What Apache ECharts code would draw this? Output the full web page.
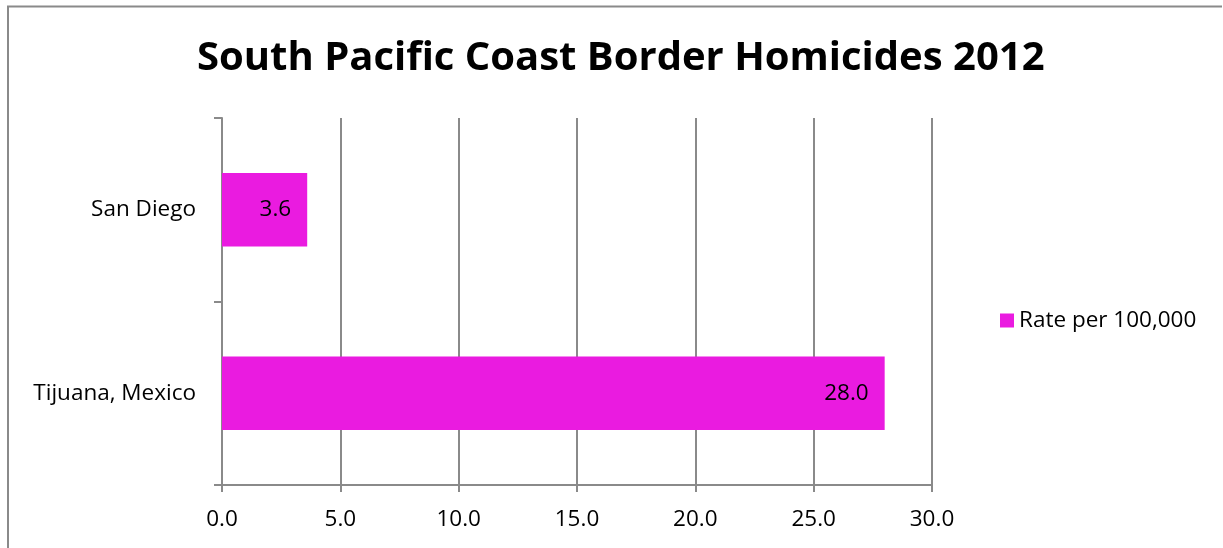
<!DOCTYPE html>
<html>
<head>
<meta charset="utf-8">
<style>
  html, body { margin: 0; padding: 0; background: #fff; }
  #chart { width: 1223px; height: 548px; }
</style>
<script src="https://cdn.jsdelivr.net/npm/echarts@6/dist/echarts.min.js"></script>
</head>
<body>
<div id="chart"></div>
<script>
// Homicide rates per 100,000 residents, 2012
const cities = ['Tijuana, Mexico', 'San Diego'];
const rates = [28.0, 3.6];
const seriesName = 'Rate per 100,000';
const axisMin = 0, axisMax = 30, axisStep = 5;

const FONT = '"Open Sans", "Noto Sans", sans-serif';
const GRID_GRAY = '#8a8a8a';
const BAR_COLOR = '#EA1BE0';
const TEXT_SIZE = 22.5;

const chart = echarts.init(document.getElementById('chart'), null, { renderer: 'canvas' });

chart.setOption({
  animation: false,
  backgroundColor: '#fff',
  title: {
    text: 'South Pacific Coast Border Homicides 2012',
    left: 192,
    top: 34,
    textStyle: { fontFamily: FONT, fontWeight: 'bold', fontSize: 40, color: '#000' }
  },
  legend: {
    data: [seriesName],
    left: 1000,
    top: 309,
    padding: 0,
    itemWidth: 14,
    itemHeight: 14,
    itemGap: 6,
    icon: 'rect',
    textStyle: { fontFamily: FONT, fontSize: TEXT_SIZE, color: '#000' }
  },
  grid: { left: 222, right: 291, top: 118, bottom: 63, containLabel: false },
  xAxis: {
    type: 'value',
    min: axisMin,
    max: axisMax,
    interval: axisStep,
    axisLine: { show: true, lineStyle: { color: GRID_GRAY, width: 2 } },
    axisTick: { show: true, length: 7, lineStyle: { color: GRID_GRAY, width: 2 } },
    axisLabel: {
      margin: 23,
      fontFamily: FONT, fontSize: TEXT_SIZE, color: '#000',
      formatter: v => v.toFixed(1)
    },
    splitLine: { show: true, lineStyle: { color: GRID_GRAY, width: 2 } }
  },
  yAxis: {
    type: 'category',
    data: cities,
    axisLine: { show: true, lineStyle: { color: GRID_GRAY, width: 2 } },
    axisTick: { show: true, length: 8, lineStyle: { color: GRID_GRAY, width: 2 } },
    axisLabel: { margin: 26, fontFamily: FONT, fontSize: TEXT_SIZE, color: '#000' }
  },
  series: [{
    name: seriesName,
    type: 'bar',
    data: rates,
    barWidth: '40%',
    itemStyle: { color: BAR_COLOR },
    label: {
      show: true,
      position: 'insideRight',
      distance: 16,
      fontFamily: FONT,
      fontSize: TEXT_SIZE,
      color: '#000',
      formatter: p => p.value.toFixed(1)
    }
  }],
  graphic: [{
    type: 'polyline',
    silent: true,
    shape: { points: [[8, 560], [8, 6.5], [1222, 6.5]] },
    style: { stroke: '#8a8a8a', lineWidth: 2, fill: null }
  }]
});
</script>
</body>
</html>
